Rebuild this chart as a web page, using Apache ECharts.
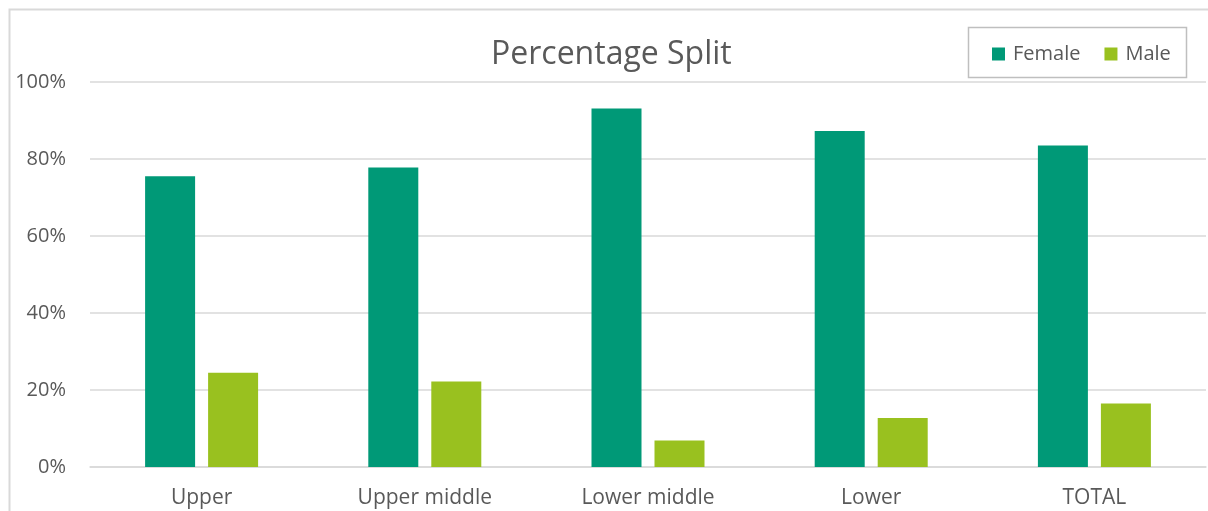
<!DOCTYPE html>
<html>
<head>
<meta charset="utf-8">
<script src="https://cdn.jsdelivr.net/npm/echarts@6/dist/echarts.min.js"></script>
<style>
html,body{margin:0;padding:0;background:#fff;}
#c{width:1208px;height:511px;}
</style>
</head>
<body>
<div id="c"></div>
<script>
const categories = ['Upper', 'Upper middle', 'Lower middle', 'Lower', 'TOTAL'];
const female = [75.5, 77.8, 93.1, 87.3, 83.5];
const male = [24.5, 22.2, 6.9, 12.7, 16.5];
const yTicks = { min: 0, max: 100, interval: 20 };

const FONT = 'Open Sans';
const chart = echarts.init(document.getElementById('c'), null, { renderer: 'canvas' });
chart.setOption({
  animation: false,
  backgroundColor: '#ffffff',
  title: {
    text: 'Percentage Split',
    left: 491, top: 39, padding: 0,
    textStyle: { fontFamily: FONT, fontSize: 32, fontWeight: 'normal', color: '#595959' }
  },
  legend: {
    data: ['Female', 'Male'],
    left: 992, top: 44, padding: 0,
    icon: 'rect', itemWidth: 13, itemHeight: 13, itemGap: 24,
    textStyle: { fontFamily: FONT, fontSize: 20, color: '#595959', padding: [0, 0, 0, 3] }
  },
  graphic: [
    { type: 'polyline', shape: { points: [[9.5, 511], [9.5, 9.5], [1208, 9.5]] },
      style: { stroke: '#d9d9d9', lineWidth: 2, fill: null }, silent: true },
    { type: 'rect', shape: { x: 968.5, y: 27.5, width: 218, height: 50 },
      style: { stroke: '#bfbfbf', lineWidth: 1.5, fill: null }, silent: true }
  ],
  grid: { left: 90, right: 2, top: 82, bottom: 44, containLabel: false },
  xAxis: {
    type: 'category', data: categories,
    axisLine: { lineStyle: { color: '#d9d9d9', width: 1.5 } },
    axisTick: { show: false },
    axisLabel: { fontFamily: FONT, fontSize: 21, color: '#595959', margin: 21 }
  },
  yAxis: {
    type: 'value', min: yTicks.min, max: yTicks.max, interval: yTicks.interval,
    axisLine: { show: false }, axisTick: { show: false },
    splitLine: { lineStyle: { color: '#d9d9d9', width: 1.5 } },
    axisLabel: { fontFamily: FONT, fontSize: 20, color: '#595959', margin: 24, formatter: '{value}%' }
  },
  series: [
    { name: 'Female', type: 'bar', data: female, barWidth: 50, barGap: '26%',
      itemStyle: { color: '#009977' } },
    { name: 'Male', type: 'bar', data: male, barWidth: 50, barGap: '26%',
      itemStyle: { color: '#99c11f' } }
  ]
});
</script>
</body>
</html>
